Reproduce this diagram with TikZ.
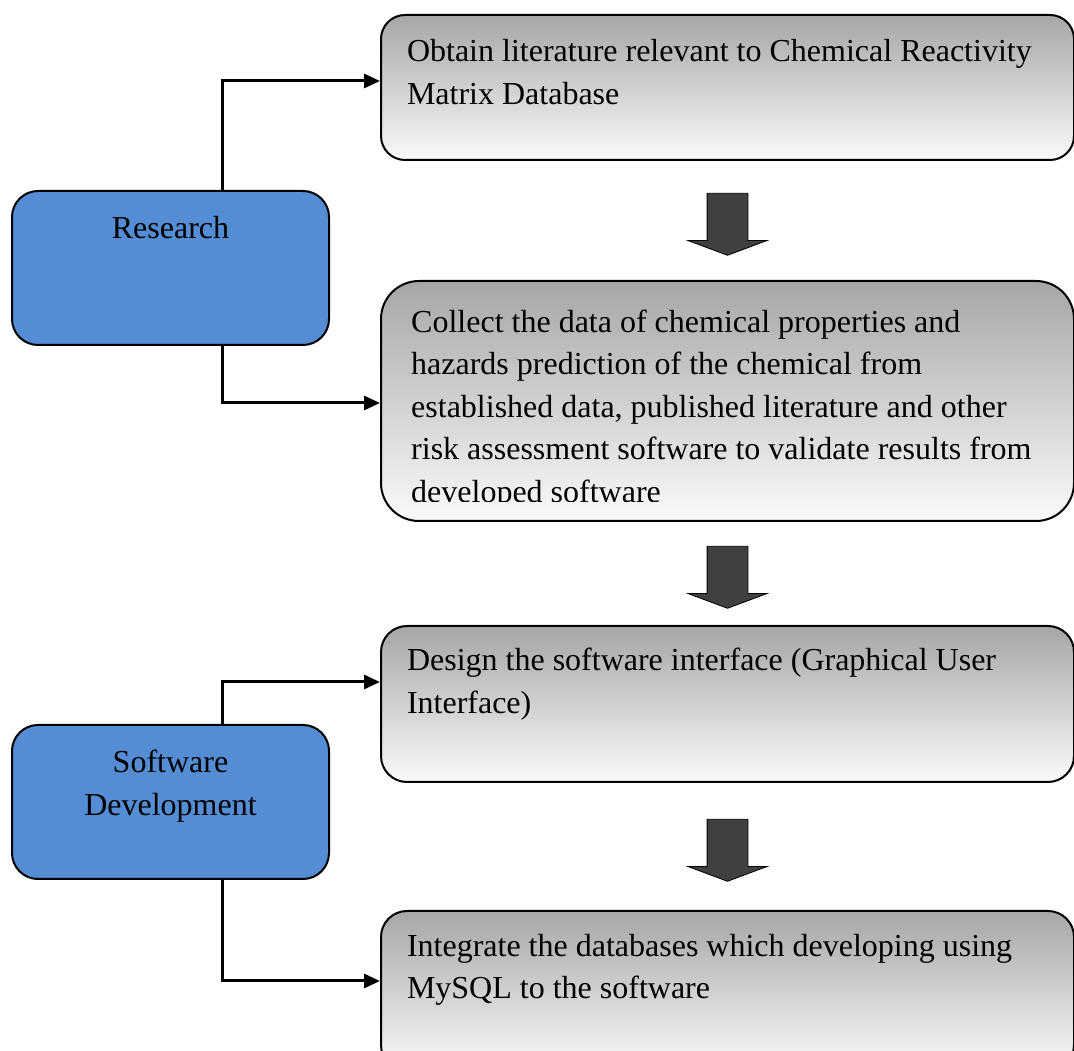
\documentclass[tikz,border=0pt]{standalone}
\usepackage{fontspec}
\setmainfont{Liberation Serif}
\usetikzlibrary{positioning,calc,shapes.arrows,arrows.meta}

\definecolor{phaseblue}{RGB}{84,141,212}
\definecolor{tasktop}{RGB}{166,166,166}
\definecolor{taskbottom}{RGB}{250,250,250}
\definecolor{arrowgray}{RGB}{64,64,64}

\begin{document}
\begin{tikzpicture}[%
		x=1pt,
		y=1pt,
		font=\fontsize{32}{42.5}\selectfont,
		taskbox/.style={%
			draw,
			line width=2pt,
			rounded corners=24pt,
			top color=tasktop,
			bottom color=taskbottom,
			inner xsep=26pt,
			inner ysep=0pt
		},
		phasebox/.style={%
			draw,
			line width=2pt,
			rounded corners=26pt,
			fill=phaseblue,
			inner xsep=10pt,
			inner ysep=0pt,
			anchor=north west
		},
		downarrow/.style={%
			single arrow,
			draw,
			line width=0.8pt,
			fill=arrowgray,
			rotate=-90,
			minimum height=62pt,
			inner xsep=0pt,
			inner ysep=20pt,
			single arrow head extend=19pt,
			single arrow head indent=0pt,
			single arrow tip angle=139
		},
		link/.style={%
			draw,
			line width=3pt,
			-{Triangle[length=16pt,width=14pt]}
		}
		]
		\useasboundingbox (0,0) rectangle (1074,1050);

		% tasks on the right
		\node[taskbox, anchor=north west] (lit) at (380,1036)
			{\parbox[c][145pt][t]{641pt}{\raggedright\rule{0pt}{47pt}Obtain literature relevant to Chemical Reactivity\\Matrix Database}};
		\node[taskbox, rounded corners=38pt, minimum width=693pt, minimum height=240pt] (coll) [below=119pt of lit] {};
		\node[taskbox, rounded corners=26pt] (gui) [below=103pt of coll]
			{\parbox[c][156pt][t]{641pt}{\raggedright\rule{0pt}{45pt}Design the software interface (Graphical User\\Interface)}};
		\node[taskbox, rounded corners=26pt] (integ) [below=127pt of gui]
			{\parbox[c][160pt][t]{641pt}{\raggedright\rule{0pt}{45pt}Integrate the databases which developing using\\MySQL to the software}};

		% text of the second task, cut at the bottom
		\begin{scope}
			\clip (coll.north west) rectangle ([yshift=20pt]coll.south east);
			\node[anchor=north west, inner sep=0pt] (colltext) at ([xshift=31pt]coll.north west)
				{\parbox[t]{650pt}{\raggedright\rule{0pt}{52pt}Collect the data of chemical properties and\\hazards prediction of the chemical from\\established data, published literature and other\\risk assessment software to validate results from\\developed software}};
		\end{scope}

		% phases on the left
		\node[phasebox] (res) at (11,860)
			{\parbox[c][154pt][t]{297pt}{\centering\rule{0pt}{48pt}Research}};
		\node[phasebox] (dev) at (11,326)
			{\parbox[c][154pt][t]{297pt}{\centering\rule{0pt}{48pt}Software\\Development}};

		% block arrows
		\node[downarrow] (a1) at ($(lit.south)!0.5!(coll.north)$) {};
		\node[downarrow] (a2) at ($(coll.south)!0.5!(gui.north)$) {};
		\node[downarrow] (a3) at ($(gui.south)!0.5!(integ.north)$) {};

		\draw[link] ([xshift=51.5pt]res.north) |- ([yshift=6.5pt]lit.west);
		\draw[link] ([xshift=51.5pt]res.south) |- ([yshift=-2pt]coll.west);
		\draw[link] ([xshift=51.5pt]dev.north) |- ([yshift=22pt]gui.west);
		\draw[link] ([xshift=51.5pt]dev.south) |- ([yshift=10pt]integ.west);
\end{tikzpicture}
\end{document}
